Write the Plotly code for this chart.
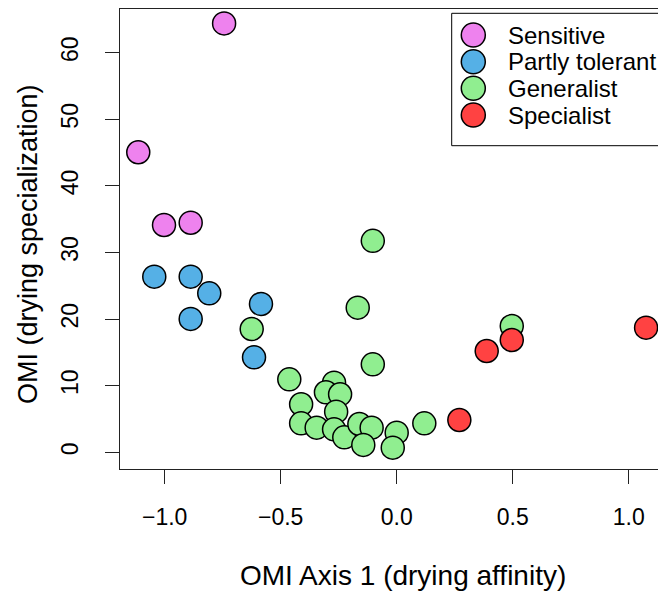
import plotly.graph_objects as go

# ---- data ----
groups = ["Sensitive", "Partly tolerant", "Generalist", "Specialist"]
colors = ["#EE82EE", "#55B0E6", "#90EE90", "#FF4242"]

sens_x = [-0.744, -1.114, -1.003, -0.888]
sens_y = [64.4, 45.05, 34.13, 34.47]

part_x = [-1.045, -0.888, -0.808, -0.888, -0.585, -0.615]
part_y = [26.37, 26.37, 23.87, 20.02, 22.27, 14.26]

gen_x = [-0.103, -0.168, -0.625, 0.496, -0.103, -0.463, -0.270, -0.305, -0.244,
         -0.412, -0.261, -0.412, -0.345, -0.270, -0.226, -0.161, -0.108, -0.144,
         0.000, -0.017, 0.119]
gen_y = [31.75, 21.71, 18.51, 18.96, 13.21, 10.96, 10.45, 9.01, 8.71,
         7.21, 6.10, 4.35, 3.69, 3.45, 2.25, 4.25, 3.69, 1.10,
         2.94, 0.69, 4.35]

spec_x = [0.270, 0.388, 0.496, 1.075]
spec_y = [4.85, 15.21, 16.86, 18.71]

x_ticks = [-1.0, -0.5, 0.0, 0.5, 1.0]
x_ticktext = ["\u22121.0", "\u22120.5", "0.0", "0.5", "1.0"]
y_ticks = [0, 10, 20, 30, 40, 50, 60]

x_title = "OMI Axis 1 (drying affinity)"
y_title = "OMI (drying specialization)"

FONT = "Liberation Sans, Arial, Helvetica, sans-serif"

# the page body has an 8px default margin: size the figure so it fits the window
OFF = 8
W, H = 666 - OFF, 592 - OFF
# plot area in window pixels: x 120..666, y 9..469
L = 120 - OFF
T = 9 - OFF
B = H - (469 - OFF)
R = 0
PW, PH = W - L - R, H - T - B


def px2paper_x(px):  # px in window pixels
    return (px - OFF - L) / PW


def px2paper_y(py):
    return (H - B - (py - OFF)) / PH


fig = go.Figure()
for name, xs, ys, col in zip(groups, [sens_x, part_x, gen_x, spec_x],
                             [sens_y, part_y, gen_y, spec_y], colors):
    fig.add_trace(go.Scatter(
        x=xs, y=ys, mode="markers", name=name, showlegend=False,
        marker=dict(size=23, color=col, line=dict(color="black", width=1.5)),
    ))

# ---- manual legend (R-style) ----
shapes = [dict(type="rect", xref="paper", yref="paper",
               x0=px2paper_x(451.7), x1=px2paper_x(663.3),
               y0=px2paper_y(145.7), y1=px2paper_y(13.3),
               line=dict(color="black", width=1), fillcolor="white", layer="above")]
annotations = []
leg_y = [35, 61.7, 88.3, 115]
for name, col, py in zip(groups, colors, leg_y):
    shapes.append(dict(type="circle", xref="paper", yref="paper",
                       xsizemode="pixel", ysizemode="pixel",
                       xanchor=px2paper_x(473.3), yanchor=px2paper_y(py),
                       x0=-12, x1=12, y0=-12, y1=12,
                       fillcolor=col, line=dict(color="black", width=1.5),
                       layer="above"))
    annotations.append(dict(xref="paper", yref="paper", x=px2paper_x(506),
                            y=px2paper_y(py), text=name, showarrow=False,
                            xanchor="left", yanchor="middle",
                            font=dict(family=FONT, size=24, color="black")))

annotations.append(dict(xref="paper", yref="paper", x=px2paper_x(402.5),
                        y=px2paper_y(575), text=x_title, showarrow=False,
                        xanchor="center", yanchor="middle",
                        font=dict(family=FONT, size=28, color="black")))
annotations.append(dict(xref="paper", yref="paper", x=px2paper_x(28),
                        y=px2paper_y(244), text=y_title, showarrow=False,
                        textangle=-90, xanchor="center", yanchor="middle",
                        font=dict(family=FONT, size=27, color="black")))

fig.update_layout(
    width=W, height=H,
    margin=dict(l=L, r=R, t=T, b=B, autoexpand=False),
    paper_bgcolor="white", plot_bgcolor="white",
    font=dict(family=FONT, color="black"),
    shapes=shapes, annotations=annotations,
    xaxis=dict(range=[-1.1927, 1.1608], showgrid=False, zeroline=False,
               showline=True, mirror=True, linecolor="#222", linewidth=1.2,
               ticks="outside", ticklen=14, tickwidth=1.2, tickcolor="#222",
               tickvals=x_ticks, ticktext=x_ticktext,
               tickfont=dict(family=FONT, size=23, color="black"),
               ticklabelstandoff=13),
    yaxis=dict(range=[-2.51, 66.56], showgrid=False, zeroline=False,
               showline=True, mirror=False, linecolor="#222", linewidth=1.2,
               ticks="outside", ticklen=14, tickwidth=1.2, tickcolor="#222",
               tickvals=y_ticks, tickangle=-90,
               tickfont=dict(family=FONT, size=23, color="black"),
               ticklabelstandoff=18),
)

fig.write_html("out.html")
